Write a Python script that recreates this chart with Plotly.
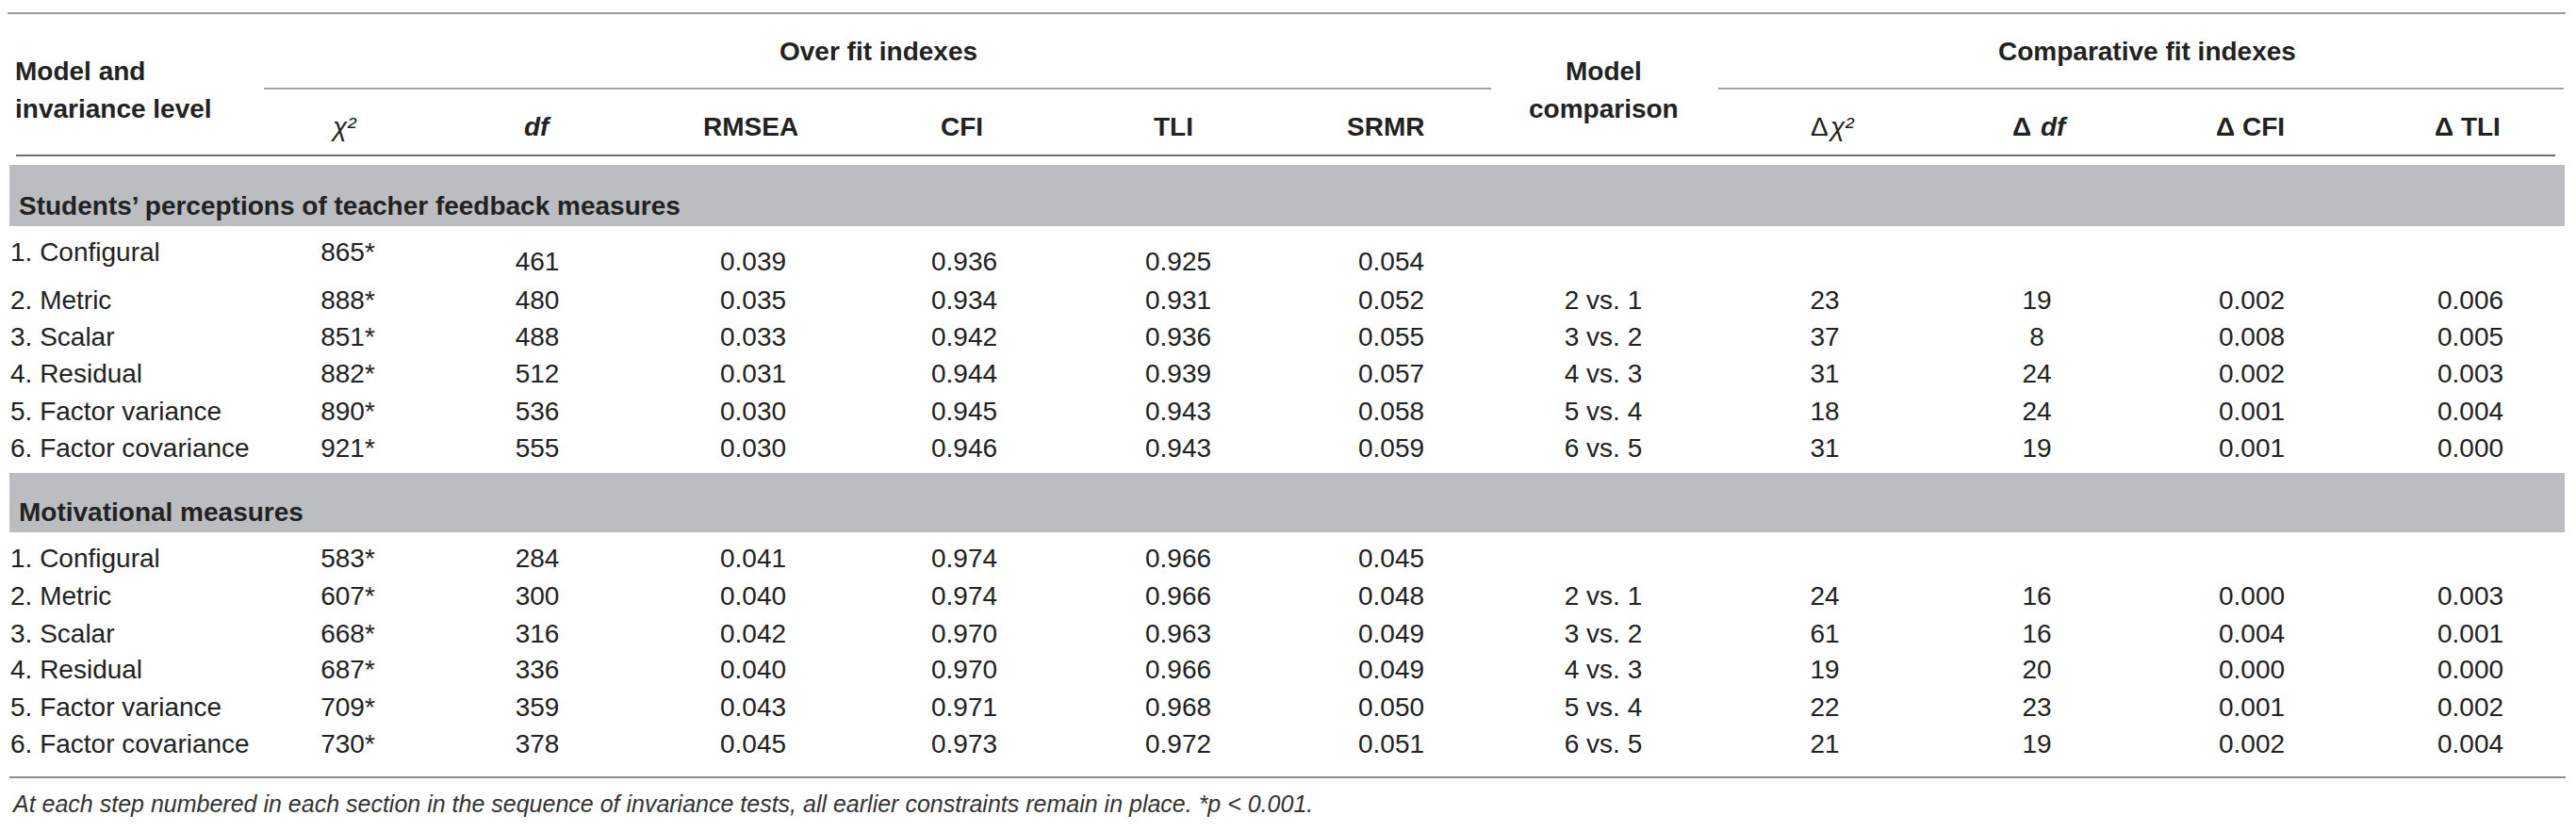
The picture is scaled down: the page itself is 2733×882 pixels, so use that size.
import plotly.graph_objects as go

# ---------------- data ----------------
labels = ["1. Configural", "2. Metric", "3. Scalar", "4. Residual",
          "5. Factor variance", "6. Factor covariance"]
section_titles = ["Students\u2019 perceptions of teacher feedback measures",
                  "Motivational measures"]
comparisons = [None, "2 vs. 1", "3 vs. 2", "4 vs. 3", "5 vs. 4", "6 vs. 5"]

s1_chi2 = [865, 888, 851, 882, 890, 921]
s1_df = [461, 480, 488, 512, 536, 555]
s1_rmsea = [0.039, 0.035, 0.033, 0.031, 0.030, 0.030]
s1_cfi = [0.936, 0.934, 0.942, 0.944, 0.945, 0.946]
s1_tli = [0.925, 0.931, 0.936, 0.939, 0.943, 0.943]
s1_srmr = [0.054, 0.052, 0.055, 0.057, 0.058, 0.059]
s1_dchi2 = [None, 23, 37, 31, 18, 31]
s1_ddf = [None, 19, 8, 24, 24, 19]
s1_dcfi = [None, 0.002, 0.008, 0.002, 0.001, 0.001]
s1_dtli = [None, 0.006, 0.005, 0.003, 0.004, 0.000]

s2_chi2 = [583, 607, 668, 687, 709, 730]
s2_df = [284, 300, 316, 336, 359, 378]
s2_rmsea = [0.041, 0.040, 0.042, 0.040, 0.043, 0.045]
s2_cfi = [0.974, 0.974, 0.970, 0.970, 0.971, 0.973]
s2_tli = [0.966, 0.966, 0.963, 0.966, 0.968, 0.972]
s2_srmr = [0.045, 0.048, 0.049, 0.049, 0.050, 0.051]
s2_dchi2 = [None, 24, 61, 19, 22, 21]
s2_ddf = [None, 16, 16, 20, 23, 19]
s2_dcfi = [None, 0.000, 0.004, 0.000, 0.001, 0.002]
s2_dtli = [None, 0.003, 0.001, 0.000, 0.002, 0.004]

plain_headers = ["RMSEA", "CFI", "TLI", "SRMR", "\u0394 CFI", "\u0394 TLI"]
group_headers = ["Over fit indexes", "Comparative fit indexes"]
footnote = ("At each step numbered in each section in the sequence of invariance tests, "
            "all earlier constraints remain in place. *p < 0.001.")

# ---------------- layout constants ----------------
W, H = 2733, 882
FONT = "Liberation Sans, Arial, sans-serif"
TXT = "#222222"
FS = 28
BAND = "#bcbdc1"

X_LABEL = 11
X_COLS = {"chi2": 369, "df": 570, "rmsea": 799, "cfi": 1023, "tli": 1250,
          "srmr": 1476, "comp": 1701, "dchi2": 1936, "ddf": 2161,
          "dcfi": 2389, "dtli": 2621}
PLAIN_HEADER_X = [796, 1020, 1245, 1470, 2387, 2618]
HEADER_Y = 134

ROWS = [[270, 321, 360, 399, 439, 478], [595, 635, 675, 713, 753, 792]]
FIRST_ROW_SHIFT = [10, 0]  # numeric columns in first row of section 1 sit lower
BANDS = [(175, 240), (502, 565)]
BAND_TEXT_Y = [218, 543]


def fmt3(v):
    return f"{v:.3f}"


def fmti(v):
    return f"{v}"


def ident(v):
    return v


sections = [
    dict(chi2=s1_chi2, df=s1_df, rmsea=s1_rmsea, cfi=s1_cfi, tli=s1_tli, srmr=s1_srmr,
         dchi2=s1_dchi2, ddf=s1_ddf, dcfi=s1_dcfi, dtli=s1_dtli),
    dict(chi2=s2_chi2, df=s2_df, rmsea=s2_rmsea, cfi=s2_cfi, tli=s2_tli, srmr=s2_srmr,
         dchi2=s2_dchi2, ddf=s2_ddf, dcfi=s2_dcfi, dtli=s2_dtli),
]

fig = go.Figure()
font = dict(family=FONT, size=FS, color=TXT)


def add_col(xpos, ys, values, f, pos="middle center"):
    xs, yy, tt = [], [], []
    for y, v in zip(ys, values):
        if v is None:
            continue
        xs.append(xpos)
        yy.append(y)
        tt.append(f(v))
    fig.add_trace(go.Scatter(x=xs, y=yy, text=tt, mode="text",
                             textposition=pos, textfont=font, hoverinfo="skip"))


for si, sec in enumerate(sections):
    rows = ROWS[si]
    add_col(X_LABEL, rows, labels, ident, "middle right")
    add_col(X_COLS["chi2"], rows, sec["chi2"], lambda v: f"{v}*")
    shifted = [rows[0] + FIRST_ROW_SHIFT[si]] + rows[1:]
    for key, f in [("df", fmti), ("rmsea", fmt3), ("cfi", fmt3), ("tli", fmt3), ("srmr", fmt3)]:
        add_col(X_COLS[key], shifted, sec[key], f)
    add_col(X_COLS["comp"], rows, comparisons, ident)
    for key, f in [("dchi2", fmti), ("ddf", fmti), ("dcfi", fmt3), ("dtli", fmt3)]:
        add_col(X_COLS[key], rows, sec[key], f)

shapes = []
for (y0, y1) in BANDS:
    shapes.append(dict(type="rect", x0=10, x1=2721, y0=y0, y1=y1,
                       fillcolor=BAND, line=dict(width=0), layer="below"))
shapes.append(dict(type="line", x0=8, x1=2722, y0=14, y1=14, line=dict(color="#9a9a9a", width=2)))
shapes.append(dict(type="line", x0=280, x1=1582, y0=94, y1=94, line=dict(color="#a3a3a3", width=2)))
shapes.append(dict(type="line", x0=1823, x1=2720, y0=94, y1=94, line=dict(color="#a3a3a3", width=2)))
shapes.append(dict(type="line", x0=17, x1=2711, y0=165, y1=165, line=dict(color="#6e6e6e", width=2)))
shapes.append(dict(type="line", x0=10, x1=2722, y0=825, y1=825, line=dict(color="#8e8e8e", width=2)))

ann = []


def A(x, y, text, xanchor="center", weight="normal", style="normal", size=FS, color=TXT):
    ann.append(dict(x=x, y=y, text=text, xanchor=xanchor, yanchor="middle",
                    showarrow=False, xref="x", yref="y",
                    font=dict(family=FONT, size=size, color=color,
                              weight=weight, style=style)))


A(14, 75, "Model and", "left", "bold")
A(14, 115, "invariance level", "left", "bold")
A(932, 54, group_headers[0], "center", "bold")
A(2278, 54, group_headers[1], "center", "bold")
A(1701, 75, "Model", "center", "bold")
A(1701, 115, "comparison", "center", "bold")
# special headers
A(364, HEADER_Y, "\u03c7\u00b2", "center", "normal", "italic")
A(570, HEADER_Y, "df", "center", "bold", "italic")
A(1919, HEADER_Y, "\u0394", "left", "normal", "normal")
A(1937, HEADER_Y, "\u03c7\u00b2", "left", "normal", "italic")
A(2157, HEADER_Y, "\u0394", "right", "bold", "normal")
A(2163, HEADER_Y, "df", "left", "bold", "italic")
for hx, ht in zip(PLAIN_HEADER_X, plain_headers):
    A(hx, HEADER_Y, ht, "center", "bold")
for ty, tt in zip(BAND_TEXT_Y, section_titles):
    A(18, ty, tt, "left", "bold")
A(10, 853, footnote, "left", "normal", "italic", 25, "#333333")

fig.update_layout(
    width=W, height=H, margin=dict(l=0, r=0, t=0, b=0),
    paper_bgcolor="white", plot_bgcolor="white", showlegend=False,
    xaxis=dict(range=[0, W], visible=False, fixedrange=True),
    yaxis=dict(range=[H, 0], visible=False, fixedrange=True),
    shapes=shapes, annotations=ann,
)

fig.write_html("out.html", config={"displayModeBar": False},
               post_script="document.body.style.margin='0';document.body.style.overflow='hidden';")
